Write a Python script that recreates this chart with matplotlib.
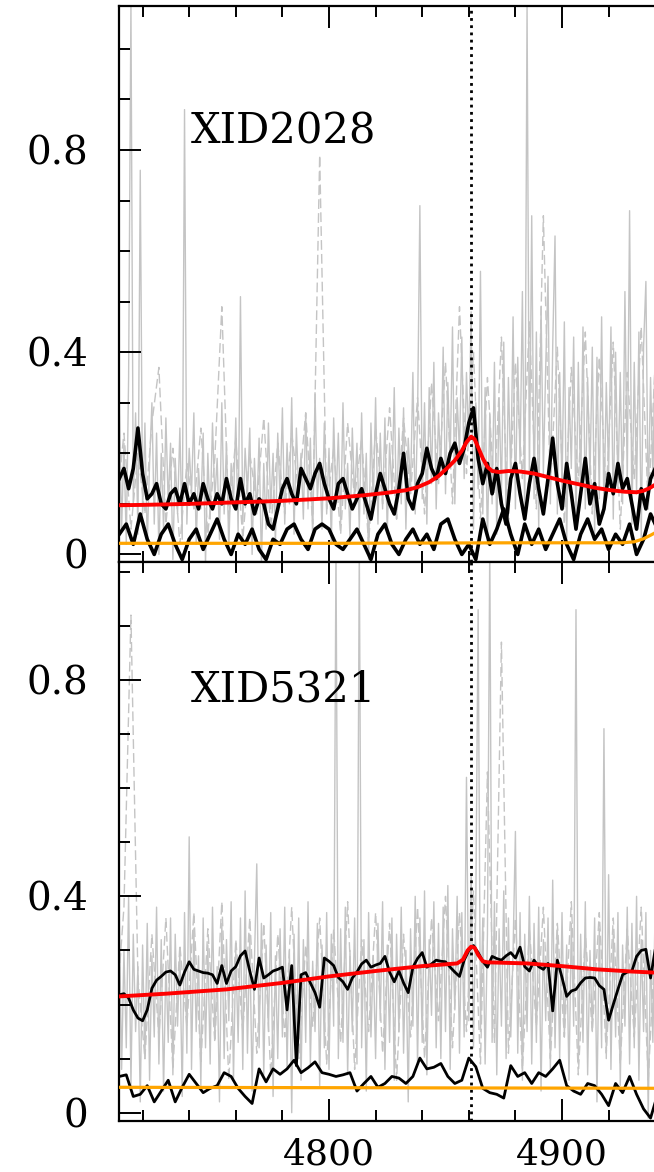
import numpy as np
import matplotlib
matplotlib.use('Agg')
import matplotlib.pyplot as plt
from matplotlib.ticker import MultipleLocator

plt.rcParams['font.family'] = ['DejaVu Serif']

HB = 4861  # H-beta rest wavelength, dotted line

# ---------------- XID2028 (upper panel) ----------------
# raw spectrum, 1 A steps from 4709
gray_2028 = [
    0.12, 0.30, 0.05, 0.22, 0.02, 0.35, 1.09, 0.10, 0.28, 0.04,
    0.76, 0.08, 0.26, 0.02, 0.18, 0.30, 0.06, 0.24, 0.00, 0.20,
    0.05, 0.27, 0.10, 0.22, -0.01, 0.19, 0.08, 0.25, 0.03, 0.88,
    0.06, 0.21, 0.12, 0.28, 0.02, 0.17, 0.09, 0.24, -0.02, 0.20,
    0.07, 0.26, 0.11, 0.19, 0.03, 0.30, 0.08, 0.22, 0.01, 0.18,
    0.10, 0.27, 0.04, 0.51, 0.06, 0.21, 0.12, 0.25, 0.00, 0.19,
    0.08, 0.23, -0.02, 0.18, 0.05, 0.26, 0.09, 0.20, 0.02, 0.24,
    0.11, 0.29, 0.06, 0.22, 0.10, 0.31, 0.04, 0.25, 0.12, 0.20,
    0.07, 0.28, 0.09, 0.23, 0.03, 0.32, 0.11, 0.19, 0.05, 0.26,
    0.08, 0.21, 0.02, 0.27, 0.10, 0.24, 0.06, 0.30, 0.09, 0.18,
    0.03, 0.25, 0.11, 0.22, 0.05, 0.28, 0.08, 0.20, -0.01, 0.26,
    0.10, 0.31, 0.06, 0.24, 0.09, 0.27, 0.04, 0.22, 0.12, 0.33,
    0.07, 0.25, 0.10, 0.29, 0.05, 0.23, 0.13, 0.36, 0.08, 0.27,
    0.69, 0.11, 0.30, 0.06, 0.33, 0.14, 0.38, 0.09, 0.28, 0.16,
    0.41, 0.12, 0.34, 0.18, 0.45, 0.10, 0.31, 0.20, 0.43, 0.15,
    0.36, 0.22, 0.48, 0.05, 0.30, 0.13, 0.56, 0.08, 0.33, 0.02,
    0.28, 0.10, 0.38, 0.04, 0.31, 0.12, 0.42, 0.06, 0.35, 0.15,
    0.47, 0.09, 0.39, 0.18, 0.52, 0.07, 1.09, 0.14, 0.67, 0.11,
    0.44, 0.05, 0.49, 0.16, 0.37, 0.55, 0.10, 0.41, 0.63, 0.08,
    0.36, 0.13, 0.46, 0.02, 0.33, 0.17, 0.43, 0.06, 0.38, 0.12,
    0.45, 0.09, 0.35, 0.15, 0.41, 0.04, 0.39, 0.11, 0.47, 0.08,
    0.34, 0.16, 0.45, 0.07, 0.40, 0.13, 0.36, 0.10, 0.52, 0.14,
    0.68, 0.06, 0.38, 0.12, 0.44, 0.03, 0.41, 0.54, 0.09, 0.35,
    0.15, 0.42, 0.08, 0.37, 0.13, 0.45, 0.05, 0.33, 0.18, 0.40,
    0.10, 0.36,
]
# second exposure (dashed grey), 3 A steps from 4709
gray2_2028 = [
    0.10, 0.24, 0.05, 0.20, 0.08, 0.26, 0.37, 0.06, 0.21, 0.02,
    0.18, 0.09, 0.25, 0.04, 0.19, 0.49, 0.07, 0.23, 0.03, 0.20,
    0.10, 0.27, 0.05, 0.22, 0.08, 0.24, 0.12, 0.28, 0.06, 0.79,
    0.09, 0.21, 0.04, 0.26, 0.11, 0.23, 0.02, 0.25, 0.10, 0.29,
    0.07, 0.27, 0.12, 0.31, 0.08, 0.34, 0.14, 0.38, 0.10, 0.49,
    0.16, 0.40, 0.07, 0.35, 0.12, 0.43, 0.05, 0.38, 0.15, 0.46,
    0.09, 0.67, 0.13, 0.41, 0.06, 0.37, 0.14, 0.44, 0.08, 0.39,
    0.12, 0.42, 0.05, 0.36, 0.15, 0.45, 0.09, 0.38, 0.11, 0.40,
    0.12,
]
# smoothed spectrum, 2 A steps from 4710
smooth_2028 = [
    0.15, 0.17, 0.13, 0.17, 0.25, 0.16, 0.11, 0.12, 0.14, 0.10,
    0.09, 0.12, 0.13, 0.10, 0.14, 0.10, 0.12, 0.09, 0.14, 0.11,
    0.09, 0.12, 0.10, 0.15, 0.11, 0.09, 0.15, 0.10, 0.12, 0.08,
    0.11, 0.10, 0.06, 0.05, 0.09, 0.13, 0.15, 0.12, 0.10, 0.17,
    0.15, 0.13, 0.16, 0.18, 0.14, 0.11, 0.09, 0.14, 0.15, 0.12,
    0.09, 0.11, 0.13, 0.10, 0.07, 0.12, 0.16, 0.13, 0.10, 0.08,
    0.13, 0.20, 0.11, 0.09, 0.14, 0.16, 0.21, 0.17, 0.15, 0.19,
    0.16, 0.20, 0.22, 0.18, 0.21, 0.26, 0.29, 0.19, 0.14, 0.18,
    0.12, 0.17, 0.10, 0.06, 0.15, 0.18, 0.12, 0.07, 0.14, 0.19,
    0.13, 0.08, 0.15, 0.23, 0.14, 0.09, 0.18, 0.12, 0.05, 0.12,
    0.19, 0.10, 0.14, 0.06, 0.09, 0.16, 0.12, 0.18, 0.13, 0.15,
    0.10, 0.05, 0.13, 0.09, 0.15, 0.17, 0.12, 0.16, 0.11, 0.14,
    0.13,
]
# residual, 3 A steps from 4710
resid_2028 = [
    0.04, 0.06, 0.02, 0.08, 0.03, 0.00, 0.04, 0.06, 0.02, -0.01,
    0.03, 0.05, 0.01, 0.04, 0.07, 0.03, 0.00, 0.04, 0.02, 0.05,
    0.01, -0.01, 0.03, 0.02, 0.05, 0.06, 0.03, 0.01, 0.05, 0.06,
    0.05, 0.02, 0.01, 0.03, 0.05, 0.02, -0.01, 0.04, 0.06, 0.02,
    0.00, 0.03, 0.05, 0.02, 0.04, 0.01, 0.06, 0.07, 0.03, 0.00,
    0.02, -0.01, 0.07, 0.02, 0.05, 0.09, 0.04, 0.00, 0.06, 0.02,
    0.05, 0.01, 0.04, 0.07, 0.02, -0.01, 0.04, 0.07, 0.03, 0.05,
    0.01, 0.04, 0.02, 0.06, 0.00, 0.03, 0.08, 0.05, 0.03, 0.06,
    0.04,
]
model_wave_2028 = [4705, 4720, 4740, 4760, 4780, 4800, 4815, 4825, 4833, 4838,
                   4843, 4847, 4851, 4854, 4857, 4859, 4861, 4862.5, 4864, 4866,
                   4868, 4870, 4873, 4877, 4882, 4888, 4894, 4900, 4907, 4914,
                   4921, 4927, 4932, 4935, 4937.5, 4940, 4945, 4955]
model_2028 = [0.097, 0.098, 0.100, 0.103, 0.106, 0.111, 0.117, 0.122, 0.127, 0.133,
              0.143, 0.155, 0.172, 0.186, 0.205, 0.222, 0.233, 0.228, 0.212, 0.190,
              0.173, 0.165, 0.163, 0.165, 0.164, 0.160, 0.153, 0.146, 0.139, 0.132,
              0.127, 0.124, 0.123, 0.126, 0.131, 0.138, 0.150, 0.170]
cont_wave_2028 = [4705, 4800, 4880, 4926, 4931, 4935, 4938, 4940, 4945, 4955]
cont_2028 = [0.022, 0.022, 0.023, 0.023, 0.025, 0.031, 0.038, 0.043, 0.060, 0.085]

# ---------------- XID5321 (lower panel) ----------------
gray_5321 = [
    0.18, 0.36, 0.08, 0.30, 0.12, 0.40, 0.05, 0.33, 0.15, 0.27,
    0.02, 0.31, 0.10, 0.35, 0.06, 0.29, 0.14, 0.38, 0.09, 0.32,
    0.04, 0.28, 0.13, 0.36, 0.07, 0.33, 0.16, 0.30, 0.03, 0.37,
    0.11, 0.51, 0.08, 0.34, 0.15, 0.29, 0.05, 0.36, 0.12, 0.31,
    0.09, 0.38, 0.14, 0.27, 0.02, 0.35, 0.10, 0.32, 0.17, 0.39,
    0.06, 0.30, 0.13, 0.36, 0.08, 0.41, 0.11, 0.33, 0.04, 0.28,
    0.46, 0.12, 0.35, 0.07, 0.31, 0.15, 0.37, 0.03, 0.29, 0.10,
    0.34, 0.14, 0.38, 0.08, 0.30, 0.00, 0.33, 0.11, 0.36, 0.06,
    0.32, 0.13, 0.39, 0.09, 0.28, 0.15, 0.35, 0.05, 0.31, 0.12,
    0.37, 0.08, 0.33, 0.16, 1.05, 0.10, 0.34, 0.13, 0.38, 0.07,
    0.30, 0.15, 0.36, 0.09, 1.05, 0.12, 0.32, 0.04, 0.37, 0.14,
    0.29, 0.10, 0.35, 0.17, 0.39, 0.08, 0.31, 0.13, 0.36, 0.06,
    0.33, 0.15, 0.38, 0.11, 0.30, 0.02, 0.34, 0.16, 0.40, 0.09,
    0.36, 0.13, 0.41, 0.07, 0.32, 0.18, 0.39, 0.12, 0.35, 0.10,
    0.38, 0.15, 0.42, 0.08, 0.34, 0.19, 0.40, 0.11, 0.37, 0.14,
    0.62, 0.17, 0.44, 0.12, 0.38, 0.93, 0.15, 0.36, 0.09, 0.33,
    1.05, 0.13, 0.39, 0.07, 0.34, 0.16, 0.41, 0.10, 0.36, 0.14,
    0.30, 0.52, 0.11, 0.37, 0.06, 0.33, 0.15, 0.40, 0.09, 0.35,
    0.13, 0.38, 0.04, 0.32, 0.17, 0.36, 0.08, 0.43, 0.12, 0.34,
    0.10, 0.37, 0.14, 0.31, 0.06, 0.35, 0.16, 0.93, 0.09, 0.33,
    0.13, 0.39, 0.07, 0.30, 0.15, 0.36, 0.02, 0.34, 0.12, 0.71,
    0.10, 0.44, 0.08, 0.33, 0.14, 0.37, 0.05, 0.31, 0.16, 0.38,
    0.09, 0.35, 0.12, 0.40, 0.06, 0.32, 0.15, 0.37, -0.01, 0.30,
    0.13, 0.39, 0.08, 0.34, 0.16, 0.36, 0.05, 0.33, 0.11, 0.38,
    0.14, 0.32,
]
gray2_5321 = [
    0.20, 0.38, 0.92, 0.25, 0.10, 0.33, 0.14, 0.36, 0.08, 0.31,
    0.16, 0.37, 0.09, 0.34, 0.13, 0.39, 0.06, 0.32, 0.15, 0.36,
    0.11, 0.35, 0.07, 0.33, 0.14, 0.38, 0.10, 0.31, 0.16, 0.36,
    0.09, 0.34, 0.13, 0.39, 0.08, 0.32, 0.15, 0.37, 0.11, 0.35,
    0.06, 0.33, 0.14, 0.38, 0.10, 0.36, 0.17, 0.40, 0.12, 0.37,
    0.15, 0.41, 0.09, 0.63, 0.13, 0.87, 0.11, 0.36, 0.08, 0.34,
    0.16, 0.38, 0.10, 0.35, 0.14, 0.39, 0.07, 0.33, 0.15, 0.37,
    0.11, 0.36, 0.09, 0.34, 0.14, 0.38, 0.06, 0.32, 0.13, 0.35,
    0.12,
]
smooth_5321 = [
    0.218, 0.220, 0.212, 0.190, 0.175, 0.170, 0.190, 0.230, 0.245, 0.252,
    0.260, 0.262, 0.255, 0.236, 0.260, 0.279, 0.265, 0.262, 0.259, 0.258,
    0.255, 0.239, 0.272, 0.239, 0.262, 0.270, 0.290, 0.299, 0.262, 0.228,
    0.286, 0.249, 0.255, 0.262, 0.265, 0.269, 0.190, 0.272, 0.087, 0.255,
    0.259, 0.240, 0.222, 0.195, 0.286, 0.280, 0.272, 0.250, 0.242, 0.228,
    0.249, 0.260, 0.275, 0.282, 0.269, 0.273, 0.276, 0.289, 0.260, 0.242,
    0.262, 0.240, 0.222, 0.269, 0.285, 0.296, 0.269, 0.275, 0.282, 0.280,
    0.279, 0.269, 0.260, 0.252, 0.282, 0.300, 0.309, 0.296, 0.280, 0.269,
    0.289, 0.285, 0.282, 0.290, 0.296, 0.286, 0.306, 0.270, 0.262, 0.282,
    0.270, 0.265, 0.276, 0.188, 0.282, 0.250, 0.215, 0.225, 0.228, 0.240,
    0.249, 0.250, 0.249, 0.235, 0.228, 0.171, 0.200, 0.228, 0.255, 0.260,
    0.262, 0.289, 0.300, 0.302, 0.249, 0.302, 0.290, 0.280, 0.285, 0.290,
    0.280,
]
resid_5321 = [
    0.067, 0.070, 0.030, 0.034, 0.050, 0.020, 0.040, 0.060, 0.020, 0.047,
    0.071, 0.054, 0.037, 0.045, 0.050, 0.074, 0.067, 0.045, 0.030, 0.017,
    0.081, 0.057, 0.081, 0.071, 0.081, 0.097, 0.074, 0.083, 0.094, 0.074,
    0.071, 0.067, 0.070, 0.074, 0.040, 0.054, 0.067, 0.047, 0.054, 0.067,
    0.064, 0.054, 0.067, 0.101, 0.081, 0.084, 0.091, 0.067, 0.054, 0.060,
    0.101, 0.085, 0.045, 0.037, 0.034, 0.027, 0.087, 0.067, 0.074, 0.054,
    0.074, 0.067, 0.081, 0.097, 0.050, 0.040, 0.034, 0.054, 0.050, 0.034,
    0.013, 0.054, 0.037, 0.067, 0.034, 0.007, -0.010, 0.034, 0.050, 0.040,
    0.045,
]
model_wave_5321 = [4705, 4710, 4730, 4756, 4780, 4800, 4820, 4840, 4855, 4857.5,
                   4859.5, 4861, 4862.5, 4864, 4866, 4868, 4885, 4900, 4915, 4930,
                   4940, 4955]
model_5321 = [0.213, 0.215, 0.220, 0.228, 0.240, 0.252, 0.262, 0.271, 0.276, 0.283,
              0.300, 0.307, 0.305, 0.292, 0.280, 0.278, 0.276, 0.271, 0.265, 0.261,
              0.259, 0.256]
cont_wave_5321 = [4705, 4955]
cont_5321 = [0.047, 0.045]

panels = [
    dict(name='XID2028', gray=gray_2028, gray2=gray2_2028, smooth=smooth_2028,
         resid=resid_2028, mw=model_wave_2028, model=model_2028,
         cw=cont_wave_2028, cont=cont_2028, ylim=(-0.014, 1.085),
         lw=2.6, pos=[0.1824, 0.5209, 0.9976, 0.4740], label_y=0.836),
    dict(name='XID5321', gray=gray_5321, gray2=gray2_5321, smooth=smooth_5321,
         resid=resid_5321, mw=model_wave_5321, model=model_5321,
         cw=cont_wave_5321, cont=cont_5321, ylim=(-0.0148, 1.019),
         lw=2.0, pos=[0.1824, 0.04377, 0.9976, 0.4771], label_y=0.782),
]

fig = plt.figure(figsize=(6.54, 11.72), dpi=100)

for i, p in enumerate(panels):
    ax = fig.add_axes(p['pos'])
    w1 = 4709 + np.arange(len(p['gray']))
    w2 = 4709 + 3 * np.arange(len(p['gray2']))
    ws = 4710 + 2 * np.arange(len(p['smooth']))
    wr = 4710 + 3 * np.arange(len(p['resid']))

    ax.plot(w1, p['gray'], color='#c4c4c4', lw=1.0, zorder=1)
    ax.plot(w2, p['gray2'], color='#c4c4c4', lw=1.0, ls=(0, (7, 3)), zorder=1)
    ax.axvline(HB, color='black', lw=2.0, ls=(0, (1.0, 1.6)), zorder=2)
    ax.plot(ws, p['smooth'], color='black', lw=p['lw'], zorder=3)
    ax.plot(wr, p['resid'], color='black', lw=p['lw'], zorder=3)
    ax.plot(p['mw'], p['model'], color='red', lw=2.8, zorder=4)
    ax.plot(p['cw'], p['cont'], color='orange', lw=2.3, zorder=5)

    ax.text(4740.5, p['label_y'], p['name'], fontsize=30, va='center', ha='left')

    ax.set_xlim(4710, 4990)
    ax.set_ylim(*p['ylim'])
    ax.xaxis.set_major_locator(MultipleLocator(100))
    ax.xaxis.set_minor_locator(MultipleLocator(20))
    ax.set_yticks([0, 0.4, 0.8])
    ax.set_yticklabels(['0', '0.4', '0.8'])
    ax.yaxis.set_minor_locator(MultipleLocator(0.1))
    ax.tick_params(which='both', direction='in', top=True, right=True, width=1.4)
    ax.tick_params(which='major', length=15.8)
    ax.tick_params(which='minor', length=7.9)
    ax.tick_params(axis='y', which='major', pad=22, labelsize=28)
    ax.tick_params(axis='x', which='major', pad=12, labelsize=26)
    for s in ax.spines.values():
        s.set_linewidth(1.6)
    if i == 0:
        ax.tick_params(labelbottom=False)

fig.savefig('out.png', dpi=100)
